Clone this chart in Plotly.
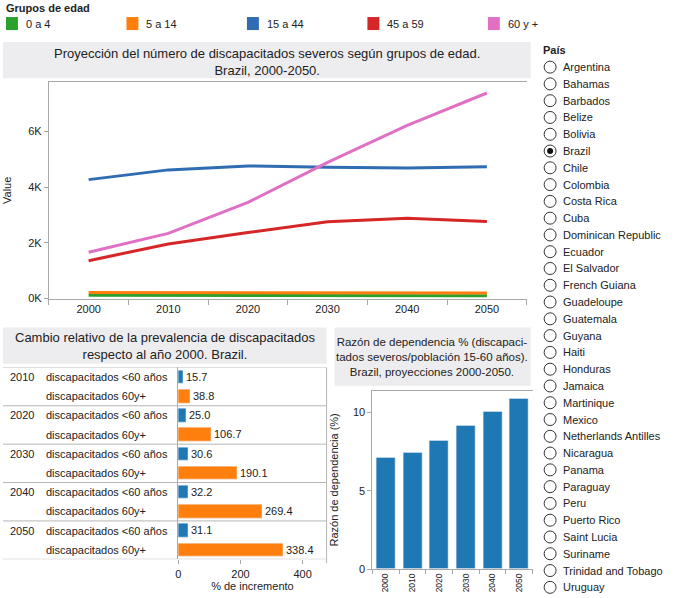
import plotly.graph_objects as go

W, H = 689, 598
K = 1.012  # vertical calibration between page pixels and photographed pixels
def px(x): return x / W
def py(y): return 1 - (y * K) / H

FONT = "Liberation Sans, Arial, sans-serif"
TXT = "#222222"

# ---- data ----
years = [2000, 2010, 2020, 2030, 2040, 2050]
group_names = ["0 a 4", "5 a 14", "15 a 44", "45 a 59", "60 y +"]
group_colors = ["#2ca02c", "#ff7f0e", "#2f6cb2", "#d62728", "#e070c4"]
g_0_4 = [115, 110, 110, 105, 105, 100]
g_5_14 = [215, 215, 210, 205, 205, 200]
g_15_44 = [4270, 4620, 4760, 4710, 4690, 4730]
g_45_59 = [1360, 1960, 2370, 2760, 2880, 2770]
g_60p = [1660, 2340, 3450, 4890, 6220, 7380]
series = [g_0_4, g_5_14, g_15_44, g_45_59, g_60p]

change_years = ["2010", "2020", "2030", "2040", "2050"]
change_labels = ["discapacitados <60 años", "discapacitados 60y+"]
change_under60 = [15.7, 25.0, 30.6, 32.2, 31.1]
change_60p = [38.8, 106.7, 190.1, 269.4, 338.4]

dep_years = ["2000", "2010", "2020", "2030", "2040", "2050"]
dep_ratio = [7.13, 7.46, 8.22, 9.19, 10.08, 10.9]

countries = ["Argentina", "Bahamas", "Barbados", "Belize", "Bolivia", "Brazil", "Chile",
             "Colombia", "Costa Rica", "Cuba", "Dominican Republic", "Ecuador", "El Salvador",
             "French Guiana", "Guadeloupe", "Guatemala", "Guyana", "Haiti", "Honduras",
             "Jamaica", "Martinique", "Mexico", "Netherlands Antilles", "Nicaragua", "Panama",
             "Paraguay", "Peru", "Puerto Rico", "Saint Lucia", "Suriname",
             "Trinidad and Tobago", "Uruguay"]
selected = "Brazil"

fig = go.Figure()

# ---- line chart ----
for name, col, vals in zip(group_names, group_colors, series):
    fig.add_trace(go.Scatter(x=years, y=vals, mode="lines", name=name,
                             line=dict(color=col, width=3), xaxis="x", yaxis="y",
                             showlegend=False))

# ---- relative change bars ----
n = len(change_years)
fig.add_trace(go.Bar(x=change_under60, y=[2 * i for i in range(n)], orientation="h",
                     marker_color="#1f77b4", width=0.7, xaxis="x2", yaxis="y2",
                     texttemplate="%{x:.1f}", textposition="outside", cliponaxis=False,
                     textfont=dict(size=11, color=TXT), showlegend=False))
fig.add_trace(go.Bar(x=change_60p, y=[2 * i + 1 for i in range(n)], orientation="h",
                     marker_color="#ff7f0e", width=0.7, xaxis="x2", yaxis="y2",
                     texttemplate="%{x:.1f}", textposition="outside", cliponaxis=False,
                     textfont=dict(size=11, color=TXT), showlegend=False))

# ---- dependency ratio bars ----
fig.add_trace(go.Bar(x=list(range(len(dep_years))), y=dep_ratio, marker_color="#1f77b4",
                     width=0.71, xaxis="x3", yaxis="y3", showlegend=False))

shapes = []
annotations = []

def note(x, y, text, size=11, xanchor="left", xref="paper", yref="paper", align="left"):
    annotations.append(dict(xref=xref, yref=yref, x=x, y=y, xanchor=xanchor, yanchor="middle",
                            text=text, showarrow=False, align=align,
                            font=dict(size=size, color=TXT)))

# title boxes
for (x0, y0, x1, y1) in [(0, 42, 530, 78), (0, 327, 325, 363), (333, 327, 530, 385)]:
    shapes.append(dict(type="rect", xref="paper", yref="paper", x0=px(x0), x1=px(x1),
                       y0=py(y1), y1=py(y0), fillcolor="#ededf0", line_width=0, layer="below"))

note(px(265), py(61.5),
     "Proyección del número de discapacitados severos según grupos de edad.<br>Brazil, 2000-2050.",
     size=13, xanchor="center", align="center")
note(px(163), py(345.5),
     "Cambio relativo de la prevalencia de discapacitados<br>respecto al año 2000. Brazil.",
     size=13, xanchor="center", align="center")
note(px(431), py(356.5),
     "Razón de dependencia % (discapaci-<br>tados severos/población 15-60 años).<br>Brazil, proyecciones 2000-2050.",
     size=11.5, xanchor="center", align="center")

# color legend
note(px(1), py(8), "<b>Grupos de edad</b>")
for i, (name, col) in enumerate(zip(group_names, group_colors)):
    x0 = 3 + 121 * i
    shapes.append(dict(type="rect", xref="paper", yref="paper", x0=px(x0), x1=px(x0 + 12),
                       y0=py(30), y1=py(17), fillcolor=col, line_width=0))
    note(px(x0 + 18), py(23.5), name)

# table structure for relative change chart
for k in range(n + 1):
    shapes.append(dict(type="line", xref="paper", yref="y2", x0=0, x1=px(325),
                       y0=2 * k - 0.5, y1=2 * k - 0.5, line=dict(color="#b5b5b5", width=1)))
shapes.append(dict(type="line", xref="paper", yref="paper", x0=px(325), x1=px(325),
                   y0=py(562), y1=py(367), line=dict(color="#b5b5b5", width=1)))
for i, yr in enumerate(change_years):
    note(px(5), 2 * i, yr, yref="y2")
    for j, lab in enumerate(change_labels):
        note(px(41), 2 * i + j, lab, yref="y2")

# country radio list
note(px(540), py(50), "<b>País</b>")
for i, c in enumerate(countries):
    yc = 67 + 16.75 * i
    shapes.append(dict(type="circle", xref="paper", yref="paper", x0=px(543.5), x1=px(555.5),
                       y0=py(yc + 6), y1=py(yc - 6), line=dict(color="#333333", width=1),
                       fillcolor="white"))
    if c == selected:
        shapes.append(dict(type="circle", xref="paper", yref="paper", x0=px(546.5), x1=px(552.5),
                           y0=py(yc + 3), y1=py(yc - 3), line=dict(width=0), fillcolor="#111111"))
    note(px(560), py(yc), c)

axis_common = dict(linecolor="#a8a8a8", tickcolor="#a8a8a8", showgrid=False, zeroline=False)

fig.update_layout(
    width=W, height=H, autosize=False,
    margin=dict(l=0, r=0, t=0, b=0),
    paper_bgcolor="white", plot_bgcolor="white",
    font=dict(family=FONT, size=11, color=TXT),
    bargap=0,
    xaxis=dict(domain=[px(46), px(526)], range=[1995, 2055], tickvals=years,
               ticktext=[str(y) for y in years], ticks="", showline=True, mirror=True,
               minor=dict(tick0=1995, dtick=10, ticks="outside", ticklen=5, tickcolor="#a8a8a8"),
               tickfont=dict(size=11, color=TXT), anchor="y", **axis_common),
    yaxis=dict(domain=[py(298), py(82)], range=[0, 7770], tickvals=[0, 2000, 4000, 6000],
               ticktext=["0K", "2K", "4K", "6K"], ticks="outside", ticklen=4, showline=True,
               tickfont=dict(size=11, color=TXT),
               title=dict(text="Value", font=dict(size=11, color=TXT), standoff=14),
               anchor="x", **axis_common),
    xaxis2=dict(domain=[px(176), px(325)], range=[0, 477], tickvals=[0, 200, 400],
                ticks="outside", ticklen=4, showline=False, anchor="y2",
                tickfont=dict(size=11, color=TXT),
                title=dict(text="% de incremento", font=dict(size=11, color=TXT), standoff=1),
                **axis_common),
    yaxis2=dict(domain=[py(558.3), py(366.7)], range=[2 * n - 0.5, -0.5], showticklabels=False,
                ticks="", showline=True, anchor="x2", **axis_common),
    xaxis3=dict(domain=[px(371), px(532)], range=[-0.5, 5.5], tickvals=list(range(6)),
                ticktext=dep_years, tickangle=-90, ticks="", showline=True, mirror=True,
                minor=dict(tick0=-0.5, dtick=1, ticks="outside", ticklen=4, tickcolor="#a8a8a8"),
                tickfont=dict(size=8.5, color=TXT), anchor="y3", **axis_common),
    yaxis3=dict(domain=[py(568), py(390)], range=[0, 11.4], tickvals=[0, 5, 10],
                ticks="outside", ticklen=4, showline=True, anchor="x3",
                tickfont=dict(size=11, color=TXT),
                title=dict(text="Razón de dependencia (%)", font=dict(size=11, color=TXT), standoff=12),
                **axis_common),
    shapes=shapes,
    annotations=annotations,
)

fig.write_html(
    "out.html",
    config={"displayModeBar": False},
    post_script="document.body.style.margin='0';document.body.style.overflow='hidden';",
)
